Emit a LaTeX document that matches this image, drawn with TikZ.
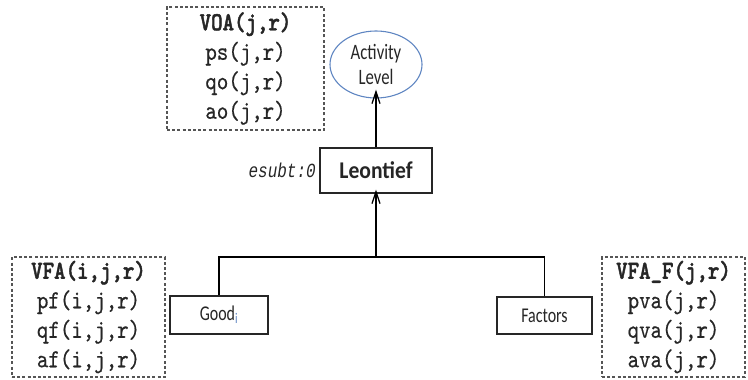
\documentclass[tikz,border=0pt]{standalone}
\usepackage{fontspec}
\usetikzlibrary{arrows.meta,shapes.geometric}
\newfontfamily\codefont[FakeStretch=0.84, FakeBold=0.5,
  BoldFont=lmmonolt10-bold.otf, BoldFeatures={FakeBold=1.6}]{lmmono10-regular.otf}
\newfontfamily\slantcode[FakeStretch=0.8]{Liberation Mono}
\newfontfamily\labelfont[FakeStretch=0.76]{Carlito}
\newfontfamily\titlefont[FakeStretch=0.9]{Carlito}
\definecolor{inkgray}{HTML}{262626}
\definecolor{ovalblue}{HTML}{5F86C2}
\definecolor{dashgray}{HTML}{555555}
\tikzset{
  varbox/.style={draw=dashgray, line width=1.1pt, dash pattern=on 3pt off 2.2pt,
    inner sep=0pt, text=inkgray, align=center,
    font=\codefont\fontsize{26}{29.5}\selectfont},
  nestbox/.style={draw=inkgray, line width=1.1pt, fill=white, inner sep=0pt,
    text=inkgray},
  link/.style={line width=1.3pt, draw=black},
  uparrow/.style={link, -{Straight Barb[length=12pt,width=8pt,line width=1.3pt]}},
}
\begin{document}
\begin{tikzpicture}[x=1pt,y=-1pt]
  \useasboundingbox (0,0) rectangle (748,380);

  % output side: the activity level and its value of output
  \node[ellipse, draw=ovalblue, line width=1.1pt, minimum width=92pt, minimum height=67pt,
        inner sep=0pt, align=center, text=inkgray,
        font=\labelfont\fontsize{22}{25}\selectfont] (act) at (376,64.5) {Activity\\Level};
  \node[varbox, minimum width=157pt, minimum height=123pt] (voa) at (245.5,68.5)
    {\textbf{VOA(j,r)}\\ps(j,r)\\qo(j,r)\\ao(j,r)};

  % the Leontief nest
  \node[nestbox, minimum width=112pt, minimum height=45pt,
        font=\titlefont\bfseries\fontsize{24}{26}\selectfont] (leo) at (376,170.5) {Leontief};
  \node[anchor=east, inner sep=0pt, text=inkgray,
        font=\slantcode\itshape\fontsize{20}{24}\selectfont] (esubt) at (316,170) {esubt:0};

  % inputs to the nest
  \node[nestbox, minimum width=98pt, minimum height=38pt,
        font=\labelfont\fontsize{21}{24}\selectfont] (good) at (219,315)
    {Good\textsubscript{\color{ovalblue}i}};
  \node[nestbox, minimum width=95pt, minimum height=37pt,
        font=\labelfont\fontsize{21}{24}\selectfont] (fac) at (544.5,315.5) {Factors};

  \node[varbox, minimum width=153pt, minimum height=120pt] (vfa) at (88.5,317)
    {\textbf{VFA(i,j,r)}\\pf(i,j,r)\\qf(i,j,r)\\af(i,j,r)};
  \node[varbox, minimum width=143pt, minimum height=120pt] (vfaf) at (673.5,317)
    {\textbf{VFA\_F(j,r)}\\pva(j,r)\\qva(j,r)\\ava(j,r)};

  % connectors
  \coordinate (jn) at (376,257);
  \coordinate (jl) at (good.north |- jn);
  \coordinate (jr) at (fac.north |- jn);
  \draw[link] (good.north) -- (jl) -- (jr) -- (fac.north);
  \draw[uparrow] (jn) -- ([yshift=4pt]leo.south);
  \draw[uparrow] (leo.north) -- ([yshift=9pt]act.south);
\end{tikzpicture}
\end{document}
